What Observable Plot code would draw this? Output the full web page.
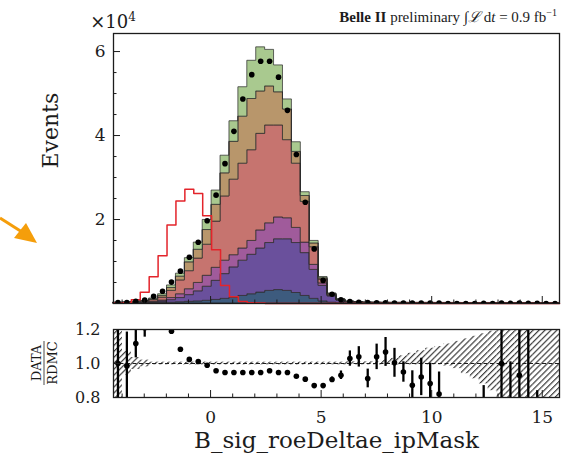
<!DOCTYPE html>
<html><head><meta charset="utf-8">
<script src="https://cdn.jsdelivr.net/npm/d3@7"></script>
<script src="https://cdn.jsdelivr.net/npm/@observablehq/plot@0.6"></script>
<style>
html,body{margin:0;padding:0;background:#fff;}
#wrap{position:relative;width:576px;height:462px;overflow:hidden;background:#fff;}
#wrap svg{display:block;}
#main{position:absolute;left:0;top:0;}
#ratio{position:absolute;left:0;top:310px;}
#arrow{position:absolute;left:0;top:0;}
</style></head><body>
<div id="wrap"><div id="main"></div><div id="ratio"></div>
<svg id="arrow" width="60" height="300"><line x1="0" y1="218" x2="22" y2="232" stroke="#f59e0b" stroke-width="3"/><polygon points="37,243 14,238 26,223" fill="#f59e0b"/></svg>
</div>
<script>
// ---- binning ----
const xLo = -4.39, xHi = 15.78, nBins = 50;
// ---- stacked MC components (x10^4 events), bottom to top ----
const layerNames = ["comp1", "comp2", "comp3", "comp4", "comp5", "comp6"];
const layerColors = ["#3d5b7e", "#6a509c", "#a05b9b", "#c6746f", "#b8966b", "#a9c98f"];
const comp1 = [0.002,0.003,0.005,0.007,0.01,0.015,0.02,0.03,0.04,0.05,
  0.065,0.085,0.11,0.14,0.18,0.22,0.26,0.30,0.32,0.30,
  0.25,0.18,0.11,0.05,0.02,0.008,0.003,0.002,0.001,0.001,
  0.001,0.001,0.001,0.001,0.001,0.001,0.001,0.001,0.001,0.001,
  0.001,0.001,0.001,0.001,0.001,0.001,0.001,0.001,0.001,0.001];
const comp2 = [0.002,0.003,0.005,0.008,0.015,0.03,0.06,0.10,0.16,0.24,
  0.335,0.455,0.59,0.72,0.84,0.94,1.05,1.14,1.21,1.23,
  1.19,1.02,0.69,0.37,0.15,0.062,0.025,0.015,0.009,0.008,
  0.007,0.006,0.006,0.005,0.005,0.005,0.004,0.004,0.004,0.003,
  0.003,0.003,0.003,0.003,0.003,0.003,0.003,0.003,0.003,0.003];
const comp3 = [0.002,0.003,0.005,0.007,0.015,0.025,0.05,0.09,0.14,0.20,
  0.26,0.31,0.32,0.29,0.29,0.33,0.43,0.47,0.52,0.50,
  0.36,0.25,0.12,0.06,0.02,0.01,0.005,0.004,0.003,0.003,
  0.002,0.002,0.002,0.002,0.002,0.002,0.002,0.002,0.002,0.002,
  0.002,0.002,0.002,0.002,0.002,0.002,0.002,0.002,0.002,0.002];
const comp4 = [0.006,0.007,0.015,0.023,0.04,0.07,0.17,0.33,0.43,0.58,
  0.74,1.10,1.53,1.80,2.02,2.16,2.30,2.33,2.19,1.86,
  1.53,0.97,0.42,0.09,0.02,0.008,0.005,0.004,0.004,0.003,
  0.003,0.003,0.003,0.003,0.003,0.003,0.003,0.003,0.003,0.003,
  0.003,0.003,0.003,0.003,0.003,0.003,0.003,0.003,0.003,0.003];
const comp5 = [0.004,0.004,0.008,0.010,0.02,0.04,0.07,0.09,0.21,0.21,
  0.35,0.40,0.55,0.90,1.12,1.22,1.01,0.93,0.79,0.73,
  0.28,0.14,0.09,0.03,0.015,0.005,0.003,0.002,0.002,0.002,
  0.002,0.002,0.002,0.002,0.002,0.002,0.002,0.002,0.002,0.002,
  0.002,0.002,0.002,0.002,0.002,0.002,0.002,0.002,0.002,0.002];
const comp6 = [0.004,0.005,0.007,0.010,0.02,0.04,0.06,0.07,0.10,0.17,
  0.24,0.34,0.42,0.49,0.70,0.91,1.05,0.87,0.64,0.24,
  0.23,0.09,0.06,0.03,0.015,0.007,0.004,0.003,0.002,0.002,
  0.002,0.002,0.002,0.002,0.002,0.002,0.002,0.002,0.002,0.002,
  0.002,0.002,0.002,0.002,0.002,0.002,0.002,0.002,0.002,0.002];
// ---- signal (red outline) ----
const signal = [0.01,0.02,0.09,0.27,0.64,1.14,1.87,2.44,2.72,2.62,
  2.09,1.28,0.43,0.16,0.05,0.02,0.01,0,0,0,
  0,0,0,0,0,0,0,0,0,0,0,0,0,0,0,0,0,0,0,0,0,0,0,0,0,0,0,0,0,0];
// ---- data points ----
const dataVals = [0.02,0.025,0.05,0.08,0.17,0.29,0.51,0.77,1.10,1.46,
  1.97,2.58,3.33,4.10,4.87,5.45,5.77,5.77,5.39,4.60,
  3.55,2.41,1.30,0.55,0.22,0.09,0.045,0.03,0.02,0.018,
  0.015,0.013,0.012,0.011,0.01,0.009,0.008,0,0,0,
  0,0.005,0,0.01,0.005,0.01,0.005,0.003,0,0];
// ---- ratio DATA / RDMC ----
const ratioVals = [1.0,0.985,1.118,1.21,1.42,1.32,1.19,1.084,1.024,1.012,
  0.99,0.957,0.947,0.947,0.947,0.947,0.947,0.957,0.947,0.947,
  0.925,0.908,0.87,0.87,0.906,0.931,1.029,1.039,0.912,1.039,
  1.068,1.004,0.95,0.872,0.921,0.882,0.82,null,null,null,
  null,0.7,null,1.0,0.6,0.931,0.5,0.3,null,null];
const ratioErr = [0.3,0.2,0.085,0.055,0.05,0.04,0.012,0.008,0.006,0.005,
  0.004,0.004,0.003,0.003,0.003,0.003,0.003,0.003,0.003,0.003,
  0.004,0.004,0.006,0.01,0.015,0.025,0.045,0.06,0.055,0.075,
  0.085,0.085,0.06,0.085,0.11,0.12,0.13,null,null,null,
  null,0.17,null,0.5,0.41,0.5,0.8,0.54,null,null];
// ---- MC uncertainty band (relative) ----
const bandUp = [0.5,0.07,0.035,0.02,0.008,0.008,0.008,0.008,0.008,0.008,
  0.008,0.008,0.008,0.008,0.008,0.008,0.008,0.008,0.008,0.008,
  0.008,0.008,0.008,0.008,0.008,0.008,0.01,0.01,0.01,0.012,
  0.02,0.03,0.045,0.06,0.075,0.09,0.1,0.115,0.13,0.145,
  0.16,0.175,0.19,0.5,0.5,0.5,0.5,0.5,0.5,0.5];
const bandDown = [0.5,0.07,0.035,0.02,0.008,0.008,0.008,0.008,0.008,0.008,
  0.008,0.008,0.008,0.008,0.008,0.008,0.008,0.008,0.008,0.008,
  0.008,0.008,0.008,0.008,0.008,0.008,0.008,0.008,0.008,0.008,
  0.008,0.008,0.008,0.008,0.008,0.008,0.008,0.015,0.03,0.06,
  0.09,0.12,0.16,0.5,0.5,0.5,0.5,0.5,0.5,0.5];
// ---- ticks ----
const yMajor = [2, 4, 6];
const yMinor = [0.5,1,1.5,2.5,3,3.5,4.5,5,5.5];
const xMajor = [0, 5, 10, 15];
const xMinor = [-4,-3,-2,-1,1,2,3,4,6,7,8,9,11,12,13,14];
const rMajor = [0.8, 1.0, 1.2];

// ---- derived tables ----
const edges = d3.range(nBins + 1).map(i => xLo + (xHi - xLo) * i / nBins);
const centers = edges.slice(0, -1).map((e, i) => (e + edges[i + 1]) / 2);
const comps = [comp1, comp2, comp3, comp4, comp5, comp6];
const stackRows = [];
comps.forEach((arr, li) => {
  for (let i = 0; i <= nBins; i++) stackRows.push({x: edges[i], v: arr[Math.min(i, nBins - 1)], layer: layerNames[li]});
});
const sigRows = edges.map((e, i) => ({x: e, v: signal[Math.min(i, nBins - 1)]}));
const dataRows = centers.map((c, i) => ({x: c, v: dataVals[i]}));
const ratioRows = centers.map((c, i) => ({x: c, r: ratioVals[i], e: ratioErr[i]})).filter(d => d.r != null);
const bandRows = centers.map((c, i) => ({x1: edges[i], x2: edges[i + 1], y1: 1 - bandDown[i], y2: 1 + bandUp[i]}));

const font = "DejaVu Serif";
const ink = "#1c1c1c";
const fw = 576 - 113 - 17, fh = 310 - 33 - 7, fh2 = 152 - 19 - 65;

const main = Plot.plot({
  width: 576, height: 310,
  marginLeft: 113, marginRight: 17, marginTop: 33, marginBottom: 7,
  style: {fontFamily: font, background: "white", color: ink},
  x: {domain: [xLo, xHi], axis: null},
  y: {domain: [0, 6.43]},
  color: {domain: layerNames, range: layerColors},
  marks: [
    Plot.areaY(stackRows, {x: "x", y: "v", z: "layer", fill: "layer", curve: "step-after", stroke: "#2a2a2a", strokeWidth: 0.9, strokeOpacity: 0.8}),
    Plot.lineY(sigRows, {x: "x", y: "v", curve: "step-after", stroke: "#e3242b", strokeWidth: 1.5}),
    Plot.dot(dataRows, {x: "x", y: "v", r: 2.8, fill: "black", stroke: "none", clip: true}),
    Plot.tickY(yMajor, {y: d => d, insetRight: fw - 7, stroke: ink}),
    Plot.tickY(yMinor, {y: d => d, insetRight: fw - 3.5, stroke: ink}),
    Plot.tickX(xMajor, {x: d => d, insetTop: fh - 7, stroke: ink}),
    Plot.tickX(xMinor, {x: d => d, insetTop: fh - 3.5, stroke: ink}),
    Plot.axisY({ticks: yMajor, tickFormat: d => String(d), tickSize: 0, tickPadding: 8, fontSize: 17, label: null}),
    Plot.text(["Events"], {text: d => d, frameAnchor: "left", rotate: -90, dx: -63, fontSize: 22, fill: ink}),
    Plot.frame({stroke: ink, strokeWidth: 1.3})
  ]
});
document.getElementById("main").appendChild(main);

const ratio = Plot.plot({
  width: 576, height: 152,
  marginLeft: 113, marginRight: 17, marginTop: 19, marginBottom: 65,
  style: {fontFamily: font, background: "white", color: ink},
  x: {domain: [xLo, xHi]},
  y: {domain: [0.8, 1.2]},
  marks: [
    Plot.rect(bandRows, {x1: "x1", x2: "x2", y1: "y1", y2: "y2", fill: "url(#hatch)", clip: true}),
    Plot.ruleY([1], {stroke: ink, strokeWidth: 1, strokeDasharray: "4,2.5"}),
    Plot.ruleX(ratioRows, {x: "x", y1: d => d.r - d.e, y2: d => d.r + d.e, stroke: "black", strokeWidth: 2.3, clip: true}),
    Plot.dot(ratioRows, {x: "x", y: "r", r: 2.8, fill: "black", stroke: "none", clip: true}),
    Plot.tickX(xMajor, {x: d => d, insetTop: fh2 - 7, stroke: ink}),
    Plot.tickX(xMinor, {x: d => d, insetTop: fh2 - 3.5, stroke: ink}),
    Plot.tickY(rMajor, {y: d => d, insetRight: fw - 7, stroke: ink}),
    Plot.axisY({ticks: rMajor, tickFormat: d3.format(".1f"), tickSize: 0, tickPadding: 13, fontSize: 16, label: null}),
    Plot.axisX({ticks: xMajor, tickFormat: d => String(d), tickSize: 0, tickPadding: 13.5, fontSize: 17, label: null}),
    Plot.text(["B_sig_roeDeltae_ipMask"], {text: d => d, frameAnchor: "bottom", dy: 50, fontSize: 23, fill: ink}),
    Plot.frame({stroke: ink, strokeWidth: 1.3})
  ]
});
document.getElementById("ratio").appendChild(ratio);

// hatch pattern
const rs = d3.select(ratio);
const pat = rs.insert("defs", ":first-child").append("pattern")
  .attr("id", "hatch").attr("patternUnits", "userSpaceOnUse")
  .attr("width", 4.2).attr("height", 4.2).attr("patternTransform", "rotate(45)");
pat.append("rect").attr("x", 0).attr("y", 0).attr("width", 1.2).attr("height", 4.2)
  .attr("fill", "#3c3c3c");

// DATA / RDMC fraction label
const g = rs.append("g").attr("transform", "translate(44,53) rotate(-90)")
  .attr("font-family", font).attr("font-size", 13).attr("fill", ink).attr("text-anchor", "middle");
g.append("text").attr("x", 0).attr("y", -3).text("DATA");
g.append("text").attr("x", 0).attr("y", 13).text("RDMC");
g.append("line").attr("x1", -22).attr("x2", 22).attr("y1", 0).attr("y2", 0).attr("stroke", ink).attr("stroke-width", 0.8);

// header texts
const ms = d3.select(main);
const off = ms.append("text").attr("x", 113).attr("y", 28).attr("font-family", font).attr("font-size", 18).attr("fill", ink);
off.append("tspan").text("×10");
off.append("tspan").attr("dy", -7).attr("font-size", 12).text("4");
const belle = ms.append("text").attr("x", 557).attr("y", 22).attr("text-anchor", "end")
  .attr("font-family", "Liberation Serif").attr("font-size", 15).attr("fill", ink);
belle.append("tspan").attr("font-weight", "bold").text("Belle II");
belle.append("tspan").text(" preliminary ∫");
belle.append("tspan").attr("font-style", "italic").text("ℒ");
belle.append("tspan").text(" d");
belle.append("tspan").attr("font-style", "italic").text("t");
belle.append("tspan").text(" = 0.9 fb");
belle.append("tspan").attr("dy", -6).attr("font-size", 10).text("−1");
</script>
</body></html>
